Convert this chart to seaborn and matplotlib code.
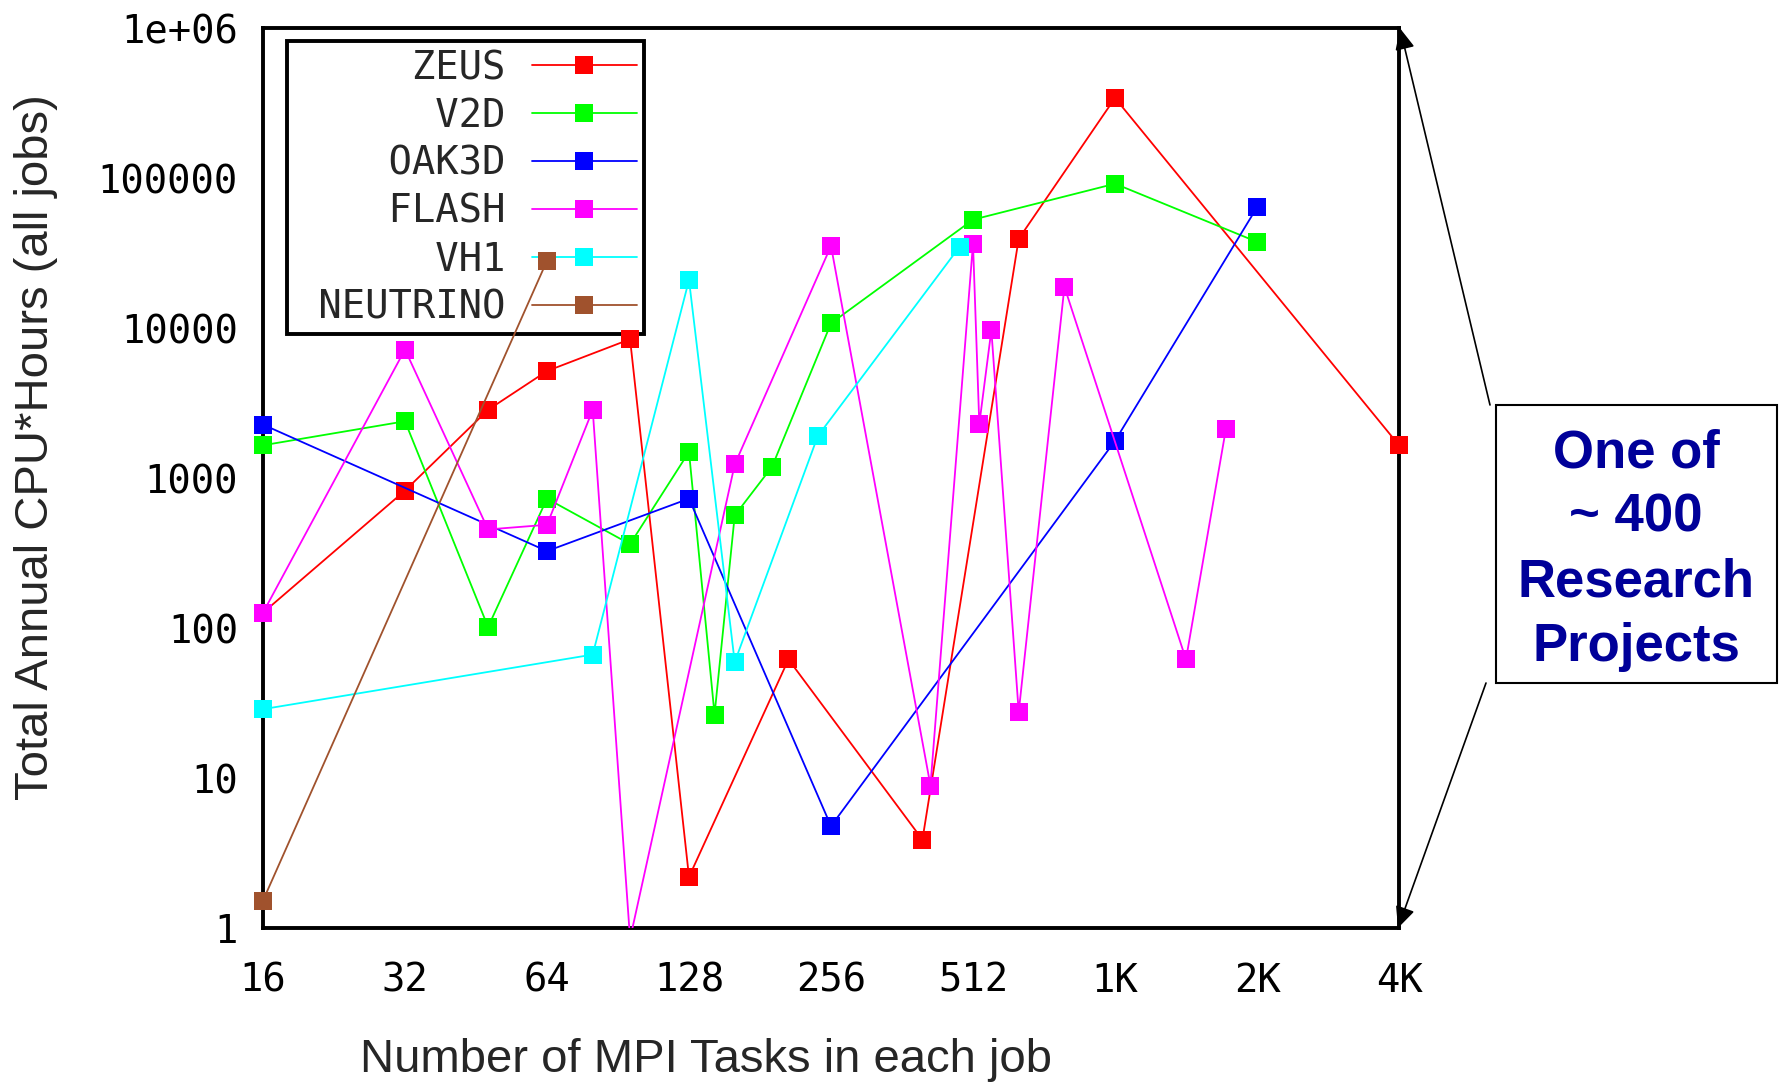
import matplotlib
matplotlib.use("Agg")
import matplotlib.pyplot as plt
import pandas as pd
import seaborn as sns
from matplotlib.patches import Rectangle
from matplotlib.ticker import LogLocator, NullLocator
from matplotlib.transforms import Bbox, TransformedBbox

# series
codes = ["ZEUS", "V2D", "OAK3D", "FLASH", "VH1", "NEUTRINO"]
colors = ["#ff0000", "#00ff00", "#0000ff", "#ff00ff", "#00ffff", "#a0522d"]

zeus_tasks = [16, 32, 48, 64, 96, 128, 208, 400, 640, 1024, 4096]
zeus_hours = [127, 828, 2860, 5190, 8460, 2.2, 62, 3.9, 39500, 343000, 1660]

v2d_tasks = [16, 32, 48, 64, 96, 128, 145, 160, 192, 256, 512, 1024, 2048]
v2d_hours = [1660, 2400, 102, 732, 364, 1500, 26.6, 565, 1195, 10800, 53000, 92000, 37700]

oak3d_tasks = [16, 64, 128, 256, 1024, 2048]
oak3d_hours = [2280, 327, 732, 4.8, 1776, 64000]

flash_tasks = [16, 32, 48, 64, 80, 96, 160, 256, 416, 512, 528, 560, 640, 800, 1448, 1760]
flash_hours = [127, 7220, 456, 490, 2860, 0.85, 1236, 35400, 8.95, 36700, 2300, 9720,
               27.6, 18900, 62, 2143]

vh1_tasks = [16, 80, 128, 160, 240, 480]
vh1_hours = [28.9, 66.8, 21000, 59.5, 1911, 35100]

neutrino_tasks = [16, 64]
neutrino_hours = [1.53, 28200]

x_ticks = [16, 32, 64, 128, 256, 512, 1024, 2048, 4096]
x_tick_labels = ["16", "32", "64", "128", "256", "512", "1K", "2K", "4K"]
y_ticks = [1, 10, 100, 1000, 10000, 100000, 1000000]
y_tick_labels = ["1", "10", "100", "1000", "10000", "100000", "1e+06"]

note = "One of\n~ 400\nResearch\nProjects"

# long table for seaborn
frames = []
for code, t, h in zip(
    codes,
    [zeus_tasks, v2d_tasks, oak3d_tasks, flash_tasks, vh1_tasks, neutrino_tasks],
    [zeus_hours, v2d_hours, oak3d_hours, flash_hours, vh1_hours, neutrino_hours],
):
    frames.append(pd.DataFrame({"tasks": t, "hours": h, "code": code}))
df = pd.concat(frames, ignore_index=True)

sns.set_style("white")
plt.rcParams["font.family"] = ["Liberation Sans", "DejaVu Sans"]

W, H = 1785, 1082
fig = plt.figure(figsize=(W / 100, H / 100), dpi=100)
ax = fig.add_axes([263 / W, 1 - 928.3 / H, 1136 / W, 900 / H])
ax.set_xscale("log", base=2)
ax.set_yscale("log")

sns.lineplot(
    data=df, x="tasks", y="hours", hue="code", hue_order=codes, palette=colors,
    estimator=None, marker="s", markersize=13, markeredgewidth=0,
    linewidth=1.3, legend=False, ax=ax,
)

ax.set_xlim(16, 4096)
ax.set_ylim(1, 1e6)

# let markers on the left/right border show fully, keep bottom/top clipping
clip = TransformedBbox(Bbox.from_extents(-0.05, 0.0, 1.05, 1.0), ax.transAxes)
for line in ax.lines:
    line.set_clip_path(None)
    line.set_clip_box(clip)
    line.set_zorder(3)

ax.set_xticks(x_ticks, x_tick_labels)
ax.set_yticks(y_ticks, y_tick_labels)
ax.xaxis.set_minor_locator(NullLocator())
ax.yaxis.set_minor_locator(LogLocator(base=10, subs=[2, 5, 8]))
ax.tick_params(which="both", direction="in", width=2, top=False, right=False,
               labelsize=28, labelfontfamily="DejaVu Sans Mono", colors="black")
ax.tick_params(which="major", length=9)
ax.tick_params(which="minor", length=5)
ax.tick_params(axis="x", pad=24)
ax.tick_params(axis="y", pad=18)

for sp in ax.spines.values():
    sp.set_linewidth(2.8)
    sp.set_color("black")

ax.set_xlabel("Number of MPI Tasks in each job", fontsize=34, ha="center", va="baseline")
ax.xaxis.set_label_coords(0.39, -0.1597)
ax.set_ylabel("Total Annual CPU*Hours (all jobs)", fontsize=34, va="center")
ax.yaxis.set_label_coords(-0.1998, 0.535)

leg = ax.legend(
    ax.lines[:6], [c.rjust(9) for c in codes],
    loc="upper left", bbox_to_anchor=(0.0211, 0.9856), borderaxespad=0,
    markerfirst=False, frameon=True, fancybox=False, edgecolor="black",
    framealpha=1, prop={"family": "DejaVu Sans Mono", "size": 28},
    handlelength=2.7, handletextpad=0.68, labelspacing=0.255, borderpad=0.2,
)
leg.get_frame().set_linewidth(2.8)
leg.set_zorder(2.7)

# callout box on the right
fig.add_artist(Rectangle((1495.7 / W, 1 - 683 / H), (1777 - 1495.7) / W, (683 - 405) / H,
                         transform=fig.transFigure, fill=False, edgecolor="black", lw=1.5))
fig.text(1636 / W, 1 - 550 / H, note, ha="center", va="center", fontsize=38,
         fontweight="bold", color="#000099", family="Liberation Sans", linespacing=1.37)

arrow = dict(arrowstyle="-|>,head_length=0.65,head_width=0.3", color="black",
             lw=1.2, shrinkA=0, shrinkB=0, mutation_scale=20)
ax.annotate("", xy=(1400 / W, 1 - 28.3 / H), xytext=(1490 / W, 1 - 405 / H),
            xycoords="figure fraction", textcoords="figure fraction",
            arrowprops=arrow, annotation_clip=False)
ax.annotate("", xy=(1398 / W, 1 - 928 / H), xytext=(1486 / W, 1 - 683 / H),
            xycoords="figure fraction", textcoords="figure fraction",
            arrowprops=arrow, annotation_clip=False)

fig.savefig("out.png", dpi=100)
